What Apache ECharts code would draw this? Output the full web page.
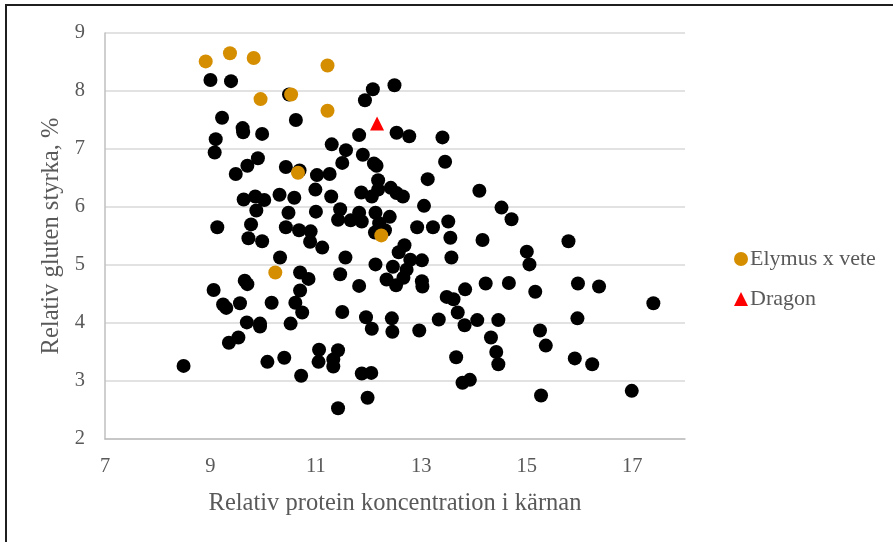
<!DOCTYPE html>
<html>
<head>
<meta charset="utf-8">
<script src="https://cdn.jsdelivr.net/npm/echarts@6/dist/echarts.min.js"></script>
<style>
  html, body { margin: 0; padding: 0; background: #fff; }
  #chart { width: 893px; height: 542px; }
</style>
</head>
<body>
<div id="chart"></div>
<script>
// ---- Data ----
const otherPoints = [
  [9.00,8.19],[9.39,8.17],[10.49,7.94],[12.08,8.03],[11.93,7.84],[12.49,8.10],
  [9.22,7.54],[10.62,7.50],[9.61,7.36],[9.62,7.29],[9.98,7.26],[9.10,7.17],[9.08,6.94],
  [11.82,7.24],[12.53,7.28],[12.77,7.22],[13.40,7.20],[11.30,7.08],[11.57,6.98],[11.89,6.90],
  [13.45,6.78],[11.50,6.76],[12.10,6.75],[12.15,6.71],
  [9.90,6.84],[9.70,6.71],[9.48,6.57],[10.43,6.69],[10.69,6.63],[11.02,6.55],[11.26,6.57],
  [13.12,6.48],[12.18,6.46],
  [11.86,6.25],[12.06,6.18],[12.18,6.30],[12.42,6.33],[12.53,6.24],[12.65,6.18],[10.99,6.30],
  [11.29,6.18],[10.31,6.21],[10.59,6.16],[9.63,6.13],[9.85,6.18],[10.02,6.12],
  [9.87,5.94],[10.48,5.90],[11.00,5.92],[13.05,6.02],[11.46,5.96],[11.82,5.90],[12.13,5.90],
  [12.40,5.83],[11.42,5.78],[11.66,5.77],[11.87,5.75],[12.20,5.72],[12.31,5.60],[12.12,5.56],
  [14.10,6.28],[14.52,5.99],[14.71,5.79],
  [9.13,5.65],[9.77,5.70],[10.43,5.65],[10.68,5.60],[10.90,5.58],[10.89,5.40],[9.72,5.46],
  [9.98,5.41],[11.12,5.30],
  [12.92,5.65],[13.22,5.65],[13.51,5.75],[13.55,5.47],[14.16,5.43],[15.00,5.23],[15.05,5.01],
  [15.79,5.41],
  [12.68,5.34],[12.57,5.22],[12.79,5.09],[13.01,5.08],[13.57,5.13],[11.56,5.13],[10.32,5.13],
  [12.13,5.01],[12.46,4.97],[12.72,4.92],
  [10.70,4.87],[10.86,4.76],[10.70,4.56],[10.61,4.35],[10.74,4.18],[11.46,4.84],[11.82,4.64],
  [12.34,4.75],[12.52,4.65],[12.66,4.78],[13.01,4.72],[13.02,4.63],[11.50,4.19],[11.95,4.10],
  [12.06,3.90],[12.44,4.08],[12.45,3.85],[12.96,3.87],[13.33,4.06],
  [9.06,4.57],[9.24,4.32],[9.30,4.26],[9.56,4.34],[9.65,4.73],[9.70,4.67],[9.69,4.01],
  [9.94,3.99],[9.94,3.94],[9.53,3.75],[9.35,3.66],[10.16,4.35],[10.52,3.99],
  [10.40,3.40],[10.08,3.33],[10.72,3.09],[11.06,3.54],[11.05,3.33],[11.42,3.53],[11.33,3.37],
  [11.33,3.25],[11.87,3.13],[12.05,3.14],[11.98,2.71],[11.42,2.53],[8.49,3.26],
  [13.48,4.45],[13.61,4.41],[13.83,4.58],[14.22,4.68],[14.66,4.69],[15.16,4.54],[15.97,4.68],
  [16.37,4.63],[17.40,4.34],[13.69,4.18],[13.82,3.96],[14.06,4.05],[14.46,4.05],[14.32,3.75],
  [14.42,3.50],[14.46,3.29],[15.25,3.87],[15.36,3.61],[15.96,4.08],[15.91,3.39],[16.24,3.29],
  [13.66,3.41],[13.78,2.97],[13.92,3.02],[15.27,2.75],[16.99,2.83]
];
const elymusPoints = [
  [8.91,8.51],[9.37,8.65],[9.82,8.57],[9.95,7.86],[10.53,7.94],[11.22,8.44],[11.22,7.66],
  [10.66,6.59],[12.24,5.51],[10.23,4.87]
];
const dragonPoints = [[12.16,7.44]];
const seriesNames = ['Elymus x vete', 'Dragon'];
const xTitle = 'Relativ protein koncentration i kärnan';
const yTitle = 'Relativ gluten styrka, %';

// ---- Chart ----
const FONT = '"Liberation Serif", "Times New Roman", serif';
const TXT = '#595959';
const chart = echarts.init(document.getElementById('chart'), null, { renderer: 'canvas' });
chart.setOption({
  animation: false,
  backgroundColor: '#ffffff',
  graphic: [{
    type: 'rect', silent: true, z: 100,
    shape: { x: 6, y: 5, width: 1000, height: 1000 },
    style: { fill: 'none', stroke: '#1f1f1f', lineWidth: 2 }
  }],
  grid: { left: 105, right: 208, top: 33, bottom: 103, containLabel: false },
  legend: {
    orient: 'vertical', left: 729, top: 243, itemGap: 18,
    itemWidth: 14, itemHeight: 14,
    data: [{ name: seriesNames[0], icon: 'circle' }, { name: seriesNames[1], icon: 'triangle' }],
    textStyle: { fontFamily: FONT, fontSize: 22, color: TXT, padding: [0, 0, 0, -3] }
  },
  xAxis: {
    type: 'value', min: 7, max: 18, interval: 1,
    name: xTitle, nameLocation: 'middle', nameGap: 52,
    nameTextStyle: { fontFamily: FONT, fontSize: 24.5, color: TXT },
    axisLine: { show: true, lineStyle: { color: '#BFBFBF', width: 1.5 } },
    axisTick: { show: false },
    splitLine: { show: false },
    axisLabel: {
      fontFamily: FONT, fontSize: 20.5, color: TXT, margin: 17,
      formatter: v => (Math.round(v) % 2 === 1 ? String(v) : '')
    }
  },
  yAxis: {
    type: 'value', min: 2, max: 9, interval: 1,
    name: yTitle, nameLocation: 'middle', nameGap: 40, nameRotate: 90,
    nameTextStyle: { fontFamily: FONT, fontSize: 24.5, color: TXT },
    axisLine: { show: true, lineStyle: { color: '#BFBFBF', width: 1.5 } },
    axisTick: { show: false },
    splitLine: { show: true, lineStyle: { color: '#D9D9D9', width: 1.5 } },
    axisLabel: { fontFamily: FONT, fontSize: 20.5, color: TXT, margin: 20 }
  },
  series: [
    {
      name: 'other', type: 'scatter', data: otherPoints, symbol: 'circle', symbolSize: 14,
      itemStyle: { color: '#000000', opacity: 1 }, z: 2
    },
    {
      name: seriesNames[0], type: 'scatter', data: elymusPoints, symbol: 'circle', symbolSize: 14,
      itemStyle: { color: '#D48E00', opacity: 1 }, z: 3
    },
    {
      name: seriesNames[1], type: 'scatter', data: dragonPoints, symbol: 'triangle', symbolSize: 14,
      itemStyle: { color: '#FF0000', opacity: 1 }, z: 4
    }
  ]
});
</script>
</body>
</html>
